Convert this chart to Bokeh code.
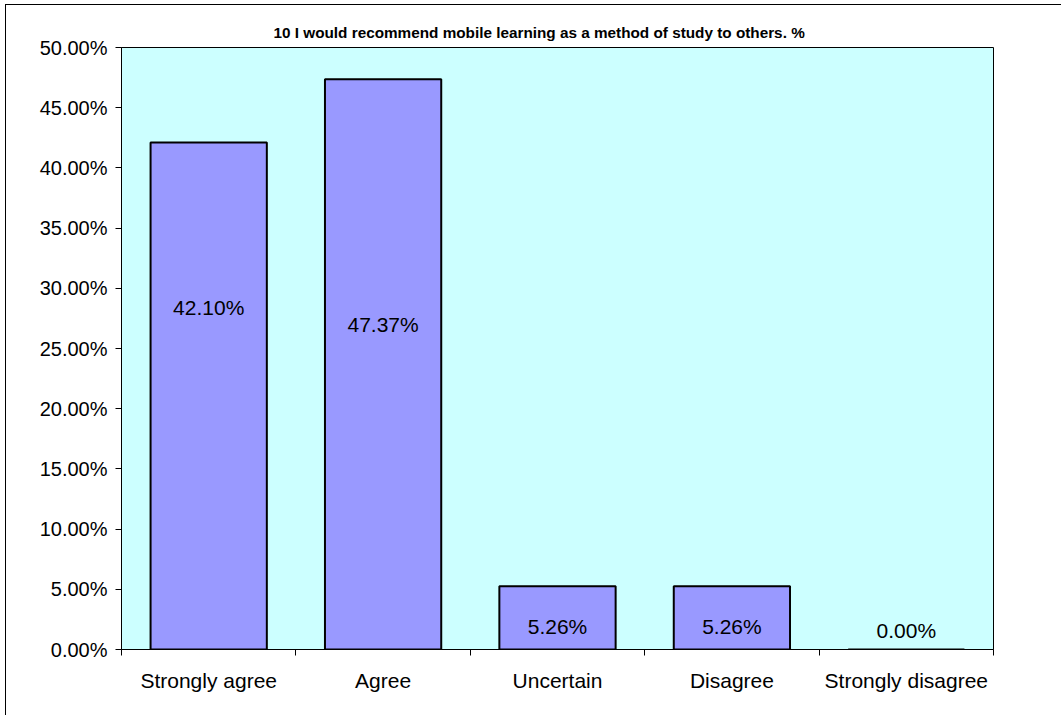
from bokeh.plotting import figure
from bokeh.models import (Range1d, FixedTicker, PrintfTickFormatter, LabelSet,
                          ColumnDataSource, InlineStyleSheet)
from bokeh.core.properties import value
from bokeh.embed import file_html
from bokeh.resources import INLINE

# Survey responses for statement 10
categories = ["Strongly agree", "Agree", "Uncertain", "Disagree", "Strongly disagree"]
percent = [42.10, 47.37, 5.26, 5.26, 0.00]
# heights (in %) at which the value labels sit inside the bars
label_at = [28.4, 27.0, 1.9, 1.9, 1.55]
y_ticks = [0, 5, 10, 15, 20, 25, 30, 35, 40, 45, 50]
title_text = "10 I would recommend mobile learning as a method of study to others. %"

FONT = "Liberation Sans"

n = len(categories)
centers = [i + 0.5 for i in range(n)]
src = ColumnDataSource(dict(
    x=centers,
    top=percent,
    ly=label_at,
    txt=[f"{v:.2f}%" for v in percent],
))

p = figure(width=1061, height=715, output_backend="svg", toolbar_location=None,
           x_range=Range1d(0, n), y_range=Range1d(0, 50),
           min_border_left=121, min_border_right=68,
           min_border_top=47, min_border_bottom=66)
p.background_fill_color = "#CCFFFF"
p.border_fill_color = "white"
p.outline_line_color = "black"
p.outline_line_width = 1
p.grid.visible = False

p.title.text = title_text
p.title.text_font = FONT
p.title.text_font_size = "15.3px"
p.title.text_font_style = "bold"
p.title.text_color = "black"
p.title.align = "left"
p.title.offset = 152
p.title.standoff = 14

p.vbar(x="x", top="top", bottom=0, width=1 / 1.5, source=src,
       fill_color="#9999FF", line_color="black", line_width=2)

p.add_layout(LabelSet(x="x", y="ly", text="txt", source=src,
                      text_align="center", text_baseline="middle",
                      text_font=value(FONT), text_font_size=value("21px"),
                      text_color="black"))

# y axis
ya = p.yaxis[0]
ya.ticker = FixedTicker(ticks=y_ticks)
ya.formatter = PrintfTickFormatter(format="%.2f%%")
ya.axis_line_color = "black"
ya.major_tick_line_color = "black"
ya.major_tick_in = 0
ya.major_tick_out = 6
ya.minor_tick_line_color = None
ya.major_label_text_font = FONT
ya.major_label_text_font_size = "20px"
ya.major_label_text_color = "black"
ya.major_label_standoff = 8

# x axis: names at bar centres, tick marks on category boundaries
xa = p.xaxis[0]
xa.ticker = FixedTicker(ticks=centers, minor_ticks=list(range(n + 1)))
xa.major_label_overrides = {c: name for c, name in zip(centers, categories)}
xa.axis_line_color = "black"
xa.major_tick_line_color = None
xa.minor_tick_line_color = "black"
xa.minor_tick_in = 0
xa.minor_tick_out = 6
xa.major_label_text_font = FONT
xa.major_label_text_font_size = "21px"
xa.major_label_text_color = "black"
xa.major_label_standoff = 13

# chart-area border (top and left edges)
p.stylesheets = [InlineStyleSheet(css="""
:host { position: relative; }
:host::before {
  content: "";
  position: absolute;
  left: 5px; top: 4px;
  width: calc(100% - 5px); height: 1px;
  background: black;
  pointer-events: none;
  z-index: 10;
}
:host::after {
  content: "";
  position: absolute;
  left: 5px; top: 4px;
  width: 1px; height: calc(100% - 4px);
  background: black;
  pointer-events: none;
  z-index: 10;
}
""")]

open("out.html", "w").write(file_html(p, INLINE))
